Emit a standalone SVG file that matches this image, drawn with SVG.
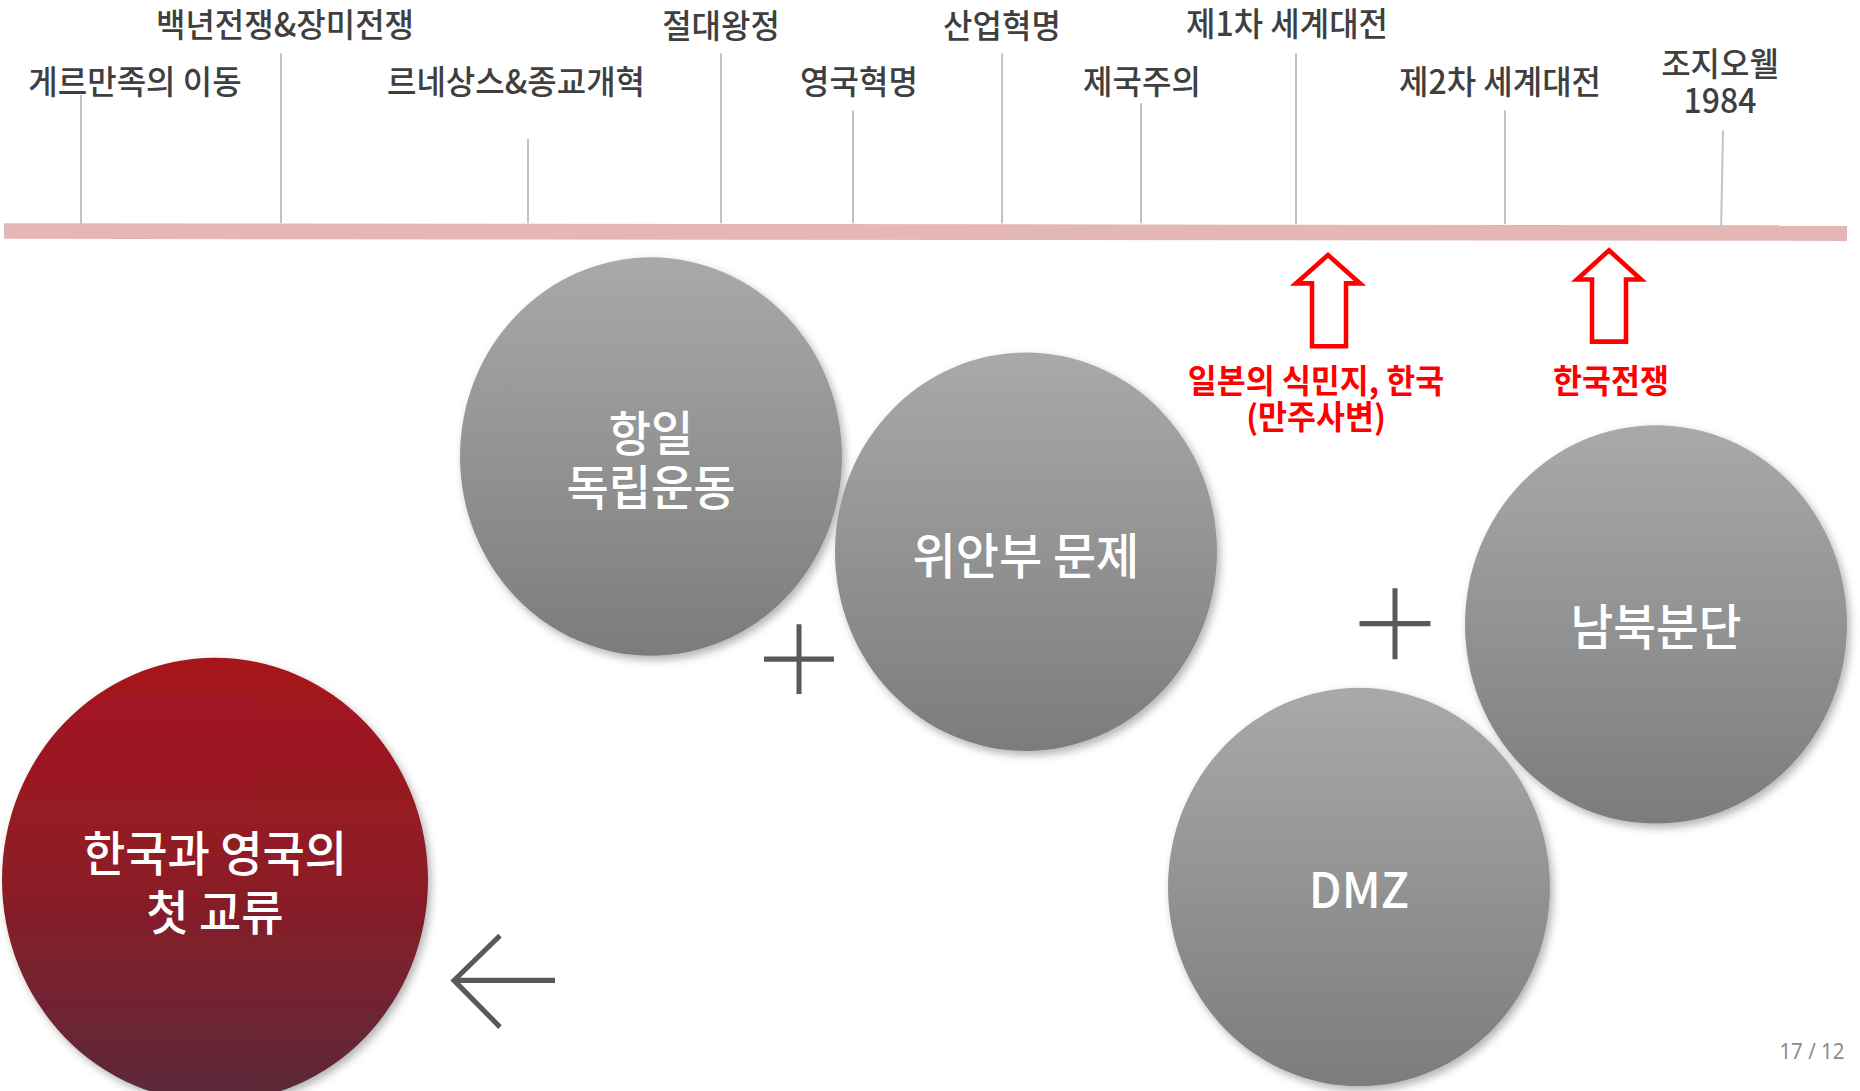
<svg xmlns="http://www.w3.org/2000/svg" width="1860" height="1091" viewBox="0 0 1860 1091">
<style>
.lbl{font-family:"Noto Sans CJK KR","Noto Sans",sans-serif;font-size:32px;font-weight:500;fill:#3f3f3f;text-anchor:middle;dominant-baseline:central}
.tick{stroke:#c3c3c3;stroke-width:2;fill:none}
.red{font-family:"Noto Sans CJK KR","Noto Sans",sans-serif;font-size:31.5px;font-weight:700;fill:#ff0000;text-anchor:middle;dominant-baseline:central}
.ctext{font-family:"Noto Sans CJK KR","Noto Sans",sans-serif;font-weight:500;fill:#ffffff;text-anchor:middle;dominant-baseline:central}
.uparrow{fill:#ffffff;stroke:#ff0000;stroke-width:4.5;stroke-linejoin:miter}
.dark{stroke:#595959;stroke-width:5;fill:none}
.gray{fill:url(#gGray);filter:url(#sh)}
</style>
<defs>
<linearGradient id="gGray" x1="0" y1="0" x2="0" y2="1">
<stop offset="0" stop-color="#a9a9a9"/>
<stop offset="1" stop-color="#7c7c7c"/>
</linearGradient>
<linearGradient id="gRed" x1="0" y1="0" x2="0" y2="1">
<stop offset="0" stop-color="#a6161e"/>
<stop offset="0.5" stop-color="#8d1c26"/>
<stop offset="1" stop-color="#5a2a3a"/>
</linearGradient>
<filter id="sh" x="-20%" y="-20%" width="140%" height="140%">
<feDropShadow dx="3" dy="4" stdDeviation="4" flood-color="#000" flood-opacity="0.3"/>
</filter>
</defs>
<rect width="1860" height="1091" fill="#ffffff"/>

<g id="slide" transform="scale(1,1.043)">
<g id="timeline">
<polygon points="4,214 1847,216 1847,231 4,229" fill="#e5b6b6"/>
</g>

<g id="connectors">
<line class="tick" x1="81" y1="91" x2="81" y2="216"/>
<line class="tick" x1="281" y1="51" x2="281" y2="214"/>
<line class="tick" x1="528" y1="133" x2="528" y2="214"/>
<line class="tick" x1="721" y1="51" x2="721" y2="214"/>
<line class="tick" x1="853" y1="106" x2="853" y2="214"/>
<line class="tick" x1="1002" y1="51" x2="1002" y2="214"/>
<line class="tick" x1="1141" y1="99" x2="1141" y2="214"/>
<line class="tick" x1="1296" y1="51" x2="1296" y2="215"/>
<line class="tick" x1="1505" y1="106" x2="1505" y2="215"/>
<line class="tick" x1="1723" y1="125" x2="1721" y2="223"/>
<path class="dark" d="M799,598.5 V665.5 M764,632 H834"/>
<path class="dark" d="M1395,564 V632 M1359.5,598 H1430.5"/>
<path class="dark" d="M555,940 H454 M500,897 L454,940 L500,984.7"/>
</g>

<g id="labels">
<text class="lbl" x="285" y="21.6">백년전쟁&amp;장미전쟁</text>
<text class="lbl" x="135" y="76">게르만족의 이동</text>
<text class="lbl" x="516" y="76">르네상스&amp;종교개혁</text>
<text class="lbl" x="721" y="22.7">절대왕정</text>
<text class="lbl" x="859" y="76">영국혁명</text>
<text class="lbl" x="1002" y="22.7">산업혁명</text>
<text class="lbl" x="1142" y="76">제국주의</text>
<text class="lbl" x="1287" y="20.5">제1차 세계대전</text>
<text class="lbl" x="1500" y="76">제2차 세계대전</text>
<text class="lbl" x="1720" y="58"><tspan x="1720" y="58">조지오웰</tspan><tspan x="1720" y="94">1984</tspan></text>
</g>

<g id="arrow-colony">
<polygon class="uparrow" points="1328,244.5 1360,271.7 1346,271.7 1346,332 1312,332 1312,271.7 1296,271.7"/>
<text class="red" x="1316" y="362.7"><tspan x="1316" y="362.7">일본의 식민지, 한국</tspan><tspan x="1316" y="398">(만주사변)</tspan></text>
</g>
<g id="arrow-war">
<polygon class="uparrow" points="1609,240 1641,268 1626,268 1626,327.5 1592,327.5 1592,268 1577,268"/>
<text class="red" x="1611" y="362.7">한국전쟁</text>
</g>

<g id="node-independence">
<circle class="gray" cx="651" cy="437.7" r="191"/>
<text class="ctext" x="651" y="411.6" font-size="46"><tspan x="651" y="411.6">항일</tspan><tspan x="651" y="464">독립운동</tspan></text>
</g>
<g id="node-comfort">
<circle class="gray" cx="1026" cy="529" r="191"/>
<text class="ctext" x="1026" y="530" font-size="47">위안부 문제</text>
</g>
<g id="node-dmz">
<circle class="gray" cx="1359" cy="850.5" r="191"/>
<text class="ctext" x="1359" y="850.5" font-size="47">DMZ</text>
</g>
<g id="node-division">
<circle class="gray" cx="1656" cy="598.6" r="191"/>
<text class="ctext" x="1656" y="598" font-size="46.5">남북분단</text>
</g>
<g id="node-first">
<circle cx="215" cy="843.6" r="213" fill="url(#gRed)" filter="url(#sh)"/>
<text class="ctext" x="215" y="815" font-size="46"><tspan x="215" y="815">한국과 영국의</tspan><tspan x="215" y="871">첫 교류</tspan></text>
</g>

<text x="1812" y="1007.5" font-family="'Noto Sans','Noto Sans CJK KR',sans-serif" font-size="20.5" fill="#8c8c8c" text-anchor="middle" dominant-baseline="central">17 / 12</text>
</g>
</svg>
